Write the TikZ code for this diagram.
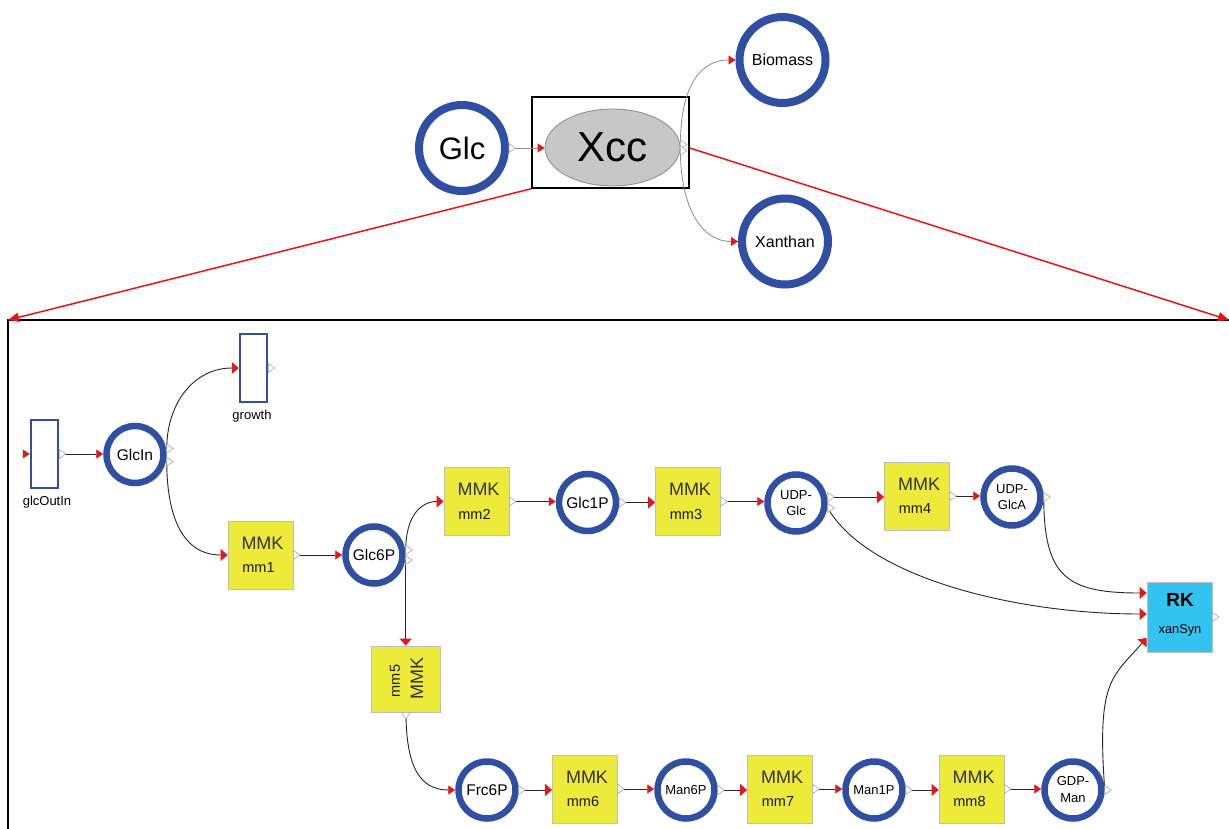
\documentclass[tikz,border=0pt]{standalone}
\usepackage{fontspec}
\setmainfont{Liberation Sans}
\usetikzlibrary{arrows.meta,shapes.geometric}
\definecolor{ringblue}{RGB}{48,78,162}
\definecolor{rxnyellow}{RGB}{238,234,58}
\definecolor{rkcyan}{RGB}{50,195,240}
\definecolor{tipred}{RGB}{225,25,25}
\definecolor{zoomred}{RGB}{232,20,20}
\newcommand\fsz[1]{\fontsize{#1}{#1}\selectfont}
\newcommand\portR[1]{\draw[portst] (#1) ++(0,-4.5) -- ++(6.5,4.5) -- ++(-6.5,4.5) -- cycle;}
\newcommand\portD[1]{\draw[portst] (#1) ++(-4.5,0) -- ++(4.5,6.5) -- ++(4.5,-6.5) -- cycle;}
\newcommand\mmkbox[3]{%
  \node[rxn] (#1) at (#2) {};
  \node[mmktxt] (#1-a) at ([xshift=2pt,yshift=12pt]#1.center) {MMK};
  \node[mmtxt] (#1-b) at ([xshift=-2pt,yshift=-13pt]#1.center) {#3};}
\begin{document}
\begin{tikzpicture}[x=1pt,y=-1pt,
  metab/.style={circle, draw=ringblue, line width=6.5pt, fill=white, minimum size=57pt, inner sep=0pt, align=center, font=\fontsize{13}{16}\selectfont},
  bigmetab/.style={metab, line width=8pt, minimum size=86pt},
  rxn/.style={rectangle, draw=black!25, fill=rxnyellow, minimum width=65pt, minimum height=68pt, inner sep=0pt, line width=0.8pt},
  mmktxt/.style={inner sep=0pt, text=black!80, font=\fsz{18}},
  mmtxt/.style={inner sep=0pt, text=black!90, font=\fsz{14.5}},
  flux/.style={rectangle, draw=ringblue, line width=2.5pt, fill=white, minimum width=27pt, minimum height=68pt, inner sep=0pt},
  lbl/.style={inner sep=0pt, font=\fsz{13}},
  conn/.style={draw=black!85, line width=0.9pt, -{Triangle[length=7pt,width=9pt,color=tipred]}},
  connb/.style={draw=black!85, line width=0.9pt, -{Triangle[length=7pt,width=12pt,color=tipred]}},
  connt/.style={draw=black!45, line width=0.8pt, -{Triangle[length=7pt,width=9pt,color=tipred]}},
  zoomline/.style={draw=zoomred, line width=1.5pt, -{Triangle[length=11pt,width=9pt]}},
  portst/.style={draw=black!35, fill=white, line width=0.6pt}
]
\fill[white] (0,0) rectangle (1229,829);
\useasboundingbox (0,0) rectangle (1229,829);

% ---------- top level ----------
\node[draw=black, line width=1.5pt, minimum width=157pt, minimum height=91pt, inner sep=0pt] (xbox) at (610.5,142.5) {};
\node[ellipse, draw=black!45, fill=black!22, line width=0.8pt, minimum width=135pt, minimum height=77pt, inner sep=0pt, font=\fsz{42}] (xcc) at (612.5,147.5) {Xcc};
\node[bigmetab, font=\fsz{31}] (glc) at (462,148) {Glc};
\node[bigmetab, font=\fsz{16}] (biomass) at (782.5,60) {Biomass};
\node[bigmetab, font=\fsz{16}] (xanthan) at (785,241.5) {Xanthan};

\coordinate (pglc) at (glc.east);
\coordinate (pxcc1) at ([yshift=3pt]xcc.east);
\coordinate (pxcc2) at ([yshift=-3pt]xcc.east);
\draw[connt] (pglc) -- (pglc -| xcc.west);
\draw[connt] (pxcc1) .. controls +(0,-50) and +(-40,0) .. (biomass.west);
\draw[connt] (pxcc2) .. controls +(0,50) and +(-40,0) .. (xanthan.west);
\portR{pglc}
\portR{pxcc1}
\portR{pxcc2}

% zoom lines and lower frame
\coordinate (zl) at (8,320);
\coordinate (zr) at (1229,320);
\draw[line width=2pt] (8,840) -- (zl) -- (1240,320);
\draw[zoomline] (xbox.south west) -- (zl);
\draw[zoomline] ([yshift=-5.5pt]xbox.east) -- (zr);

% ---------- lower level ----------
\node[flux] (glcoutin) at (44.5,454) {};
\node[lbl] (glcoutinlbl) at (47,502) {glcOutIn};
\node[flux] (growth) at (253.5,368) {};
\node[lbl] (growthlbl) at (252,416) {growth};

\node[metab, font=\fsz{15.5}] (glcin) at (135,454.5) {GlcIn};
\node[metab, font=\fsz{15.5}] (glc6p) at (374,555) {Glc6P};
\node[metab, font=\fsz{15.5}] (glc1p) at (587.5,502.5) {Glc1P};
\node[metab] (udpglc) at (796,503) {UDP-\\Glc};
\node[metab] (udpglca) at (1012,497) {UDP-\\GlcA};
\node[metab, font=\fsz{15.5}] (frc6p) at (487,790) {Frc6P};
\node[metab] (man6p) at (686,790) {Man6P};
\node[metab] (man1p) at (874,790) {Man1P};
\node[metab, font=\fontsize{13}{17}\selectfont] (gdpman) at (1073,790) {GDP-\\Man};

\mmkbox{mm1}{260.5,555}{mm1}
\mmkbox{mm2}{476.5,501.5}{mm2}
\mmkbox{mm3}{688,501.5}{mm3}
\mmkbox{mm4}{917,496}{mm4}
\mmkbox{mm6}{585,789}{mm6}
\mmkbox{mm7}{780,789}{mm7}
\mmkbox{mm8}{971.5,789}{mm8}

\node[rxn, minimum width=69pt, minimum height=66pt] (mm5) at (406,679) {};
\node[mmtxt, rotate=90] (mm5-b) at (395,681) {mm5};
\node[mmktxt, rotate=90] (mm5-a) at (417,678) {MMK};

\node[rxn, fill=rkcyan, minimum width=65pt, minimum height=70pt] (xansyn) at (1179.5,617) {};
\node[inner sep=0pt, font=\bfseries\fsz{19}] (xansyn-a) at (1180,600) {RK};
\node[inner sep=0pt, font=\fsz{12.8}] (xansyn-b) at (1180,630) {xanSyn};

% port coordinates
\coordinate (gin) at ([xshift=-7pt]glcoutin.west);
\coordinate (pgo) at (glcoutin.east);
\coordinate (pgi1) at ([yshift=6pt]glcin.east);
\coordinate (pgi2) at ([yshift=-7pt]glcin.east);
\coordinate (pgr) at (growth.east);
\coordinate (pm1) at (mm1.east);
\coordinate (pg6a) at ([yshift=5pt]glc6p.east);
\coordinate (pg6b) at ([yshift=-5pt]glc6p.east);
\coordinate (pm2) at (mm2.east);
\coordinate (pg1) at (glc1p.east);
\coordinate (pm3) at (mm3.east);
\coordinate (pug1) at ([yshift=6pt]udpglc.east);
\coordinate (pug2) at ([yshift=-5pt]udpglc.east);
\coordinate (pm4) at (mm4.east);
\coordinate (puga) at (udpglca.east);
\coordinate (pm5) at (mm5.south);
\coordinate (pf6) at (frc6p.east);
\coordinate (pm6) at (mm6.east);
\coordinate (pma6) at (man6p.east);
\coordinate (pm7) at (mm7.east);
\coordinate (pma1) at (man1p.east);
\coordinate (pm8) at (mm8.east);
\coordinate (pgd) at (gdpman.east);
\coordinate (pxs) at (xansyn.east);

% connectors
\draw[conn] (gin) -- (glcoutin.west);
\draw[conn] (pgo) -- (pgo -| glcin.west);
\draw[connb] (pgi1) .. controls +(0,-45) and +(-45,0) .. (growth.west);
\draw[connb] (pgi2) .. controls +(0,55) and +(-45,0) .. (mm1.west);
\draw[conn] (pm1) -- (pm1 -| glc6p.west);
\draw[connb] (pg6a) .. controls +(0,-35) and +(-22,0) .. (mm2.west);
\draw[connb] (pg6b) -- (pg6b |- mm5.north);
\draw[conn] (pm2) -- (pm2 -| glc1p.west);
\draw[connb] (pg1) -- (pg1 -| mm3.west);
\draw[conn] (pm3) -- (pm3 -| udpglc.west);
\draw[connb] (pug1) -- (pug1 -| mm4.west);
\draw[conn] (pm4) -- (pm4 -| udpglca.west);
\draw[connb] (pug2) .. controls +(40,70) and +(-130,0) .. ([yshift=3pt]xansyn.west);
\draw[connb] (puga) .. controls +(0,80) and +(-80,0) .. ([yshift=24pt]xansyn.west);
\draw[connb] (pgd) .. controls +(-8,-110) and +(-35,40) .. ([yshift=-21pt]xansyn.west);
\draw[conn] (pm5) .. controls +(0,55) and +(-35,0) .. (frc6p.west);
\draw[connb] (pf6) -- (pf6 -| mm6.west);
\draw[conn] (pm6) -- (pm6 -| man6p.west);
\draw[connb] (pma6) -- (pma6 -| mm7.west);
\draw[conn] (pm7) -- (pm7 -| man1p.west);
\draw[connb] (pma1) -- (pma1 -| mm8.west);
\draw[conn] (pm8) -- (pm8 -| gdpman.west);

% ports
\portR{pgo}
\portR{pgi1}
\portR{pgi2}
\portR{pgr}
\portR{pm1}
\portR{pg6a}
\portR{pg6b}
\portR{pm2}
\portR{pg1}
\portR{pm3}
\portR{pug1}
\portR{pug2}
\portR{pm4}
\portR{puga}
\portD{pm5}
\portR{pf6}
\portR{pm6}
\portR{pma6}
\portR{pm7}
\portR{pma1}
\portR{pm8}
\portR{pgd}
\portR{pxs}
\end{tikzpicture}
\end{document}
